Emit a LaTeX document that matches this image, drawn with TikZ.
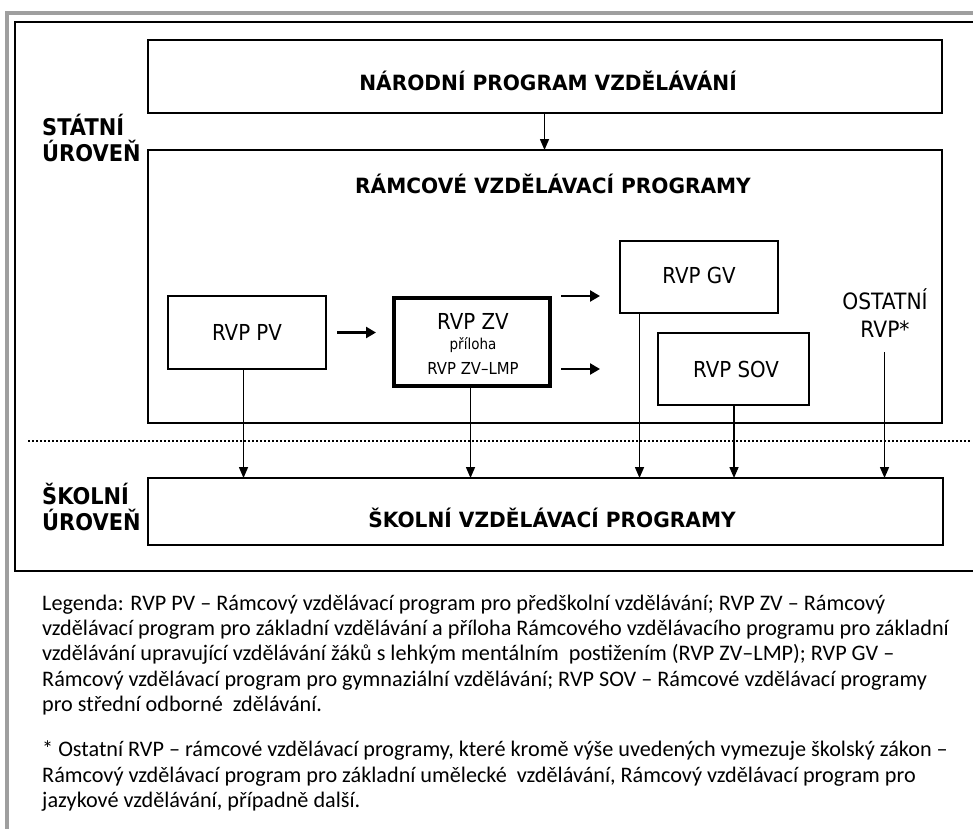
\documentclass[tikz,border=0pt]{standalone}
\usepackage{fontspec}
\setmainfont{DejaVu Sans}
\newfontfamily\legendfont{Carlito}
\newfontfamily\headfont[FakeStretch=0.96]{DejaVu Sans}
\newfontfamily\sidefont[FakeStretch=0.91]{DejaVu Sans}
\newfontfamily\boxfont[FakeStretch=0.9]{DejaVu Sans}
\usetikzlibrary{arrows.meta,calc}

\begin{document}
\begin{tikzpicture}[x=1pt,y=-1pt,
  box/.style={draw=black, line width=1.6pt, inner sep=0pt, outer sep=0pt},
  varr/.style={line width=1.5pt, -{Triangle[length=11pt,width=9pt]}},
  harr/.style={line width=2.4pt, -{Triangle[length=10pt,width=11pt]}},
  head/.style={inner sep=0pt, font=\headfont\bfseries\fontsize{21}{24}\selectfont},
  side/.style={inner sep=0pt, align=left, font=\sidefont\bfseries\fontsize{23}{26}\selectfont},
  lbl/.style={inner sep=0pt, font=\boxfont\fontsize{22}{26}\selectfont},
  leg/.style={anchor=base west, inner sep=0pt, font=\legendfont\fontsize{22.2}{25}\selectfont}
]
\useasboundingbox (0,0) rectangle (973,828);
\fill[white] (0,0) rectangle (973,828);

% outer grey frame and inner black frame
\draw[gray!75, line width=4pt] (6.5,13) rectangle (990,850);
\draw[black, line width=1.8pt] (15,22) rectangle (990,571);

% state level
\node[box, minimum width=794, minimum height=73] (npv) at (545,76.5) {};
\node[head] (npvt) at (548,81) {NÁRODNÍ PROGRAM VZDĚLÁVÁNÍ};
\node[side, anchor=west] (statni) at (42,138) {STÁTNÍ\\ÚROVEŇ};

\node[box, minimum width=794, minimum height=273] (rvp) at (545,286.5) {};
\node[head] (rvpt) at (553,184) {RÁMCOVÉ VZDĚLÁVACÍ PROGRAMY};

\node[box, minimum width=158, minimum height=73] (pv) at (247,332.5) {};
\node[lbl] (pvt) at (247,332) {RVP PV};

\node[box, line width=4pt, minimum width=156, minimum height=88] (zv) at (472,342) {};
\node[lbl] (zvt1) at (473,321) {RVP ZV};
\node[inner sep=0pt, font=\boxfont\fontsize{15}{18}\selectfont] (zvt2) at (473,345) {příloha};
\node[inner sep=0pt, font=\boxfont\fontsize{16.5}{19}\selectfont] (zvt3) at (473,368) {RVP ZV–LMP};

\node[box, minimum width=158, minimum height=72] (gv) at (699,277) {};
\node[lbl] (gvt) at (699,275) {RVP GV};

\node[box, minimum width=151, minimum height=72] (sov) at (733.5,369) {};
\node[lbl] (sovt) at (736,369) {RVP SOV};

\node[inner sep=0pt, align=center, font=\boxfont\fontsize{22.5}{28}\selectfont] (ost) at (885,313) {OSTATNÍ\\RVP*};
\coordinate (ostbot) at (884.5,352);

% boundary between the levels
\coordinate (dl) at (28,441);
\coordinate (dr) at (970,441);
\draw[line width=1.8pt, dash pattern=on 1.8pt off 2.2pt] (dl) -- (dr);

% school level
\node[box, minimum width=795, minimum height=67] (svp) at (545.5,511.5) {};
\node[head] (svpt) at (552,518) {ŠKOLNÍ VZDĚLÁVACÍ PROGRAMY};
\node[side, anchor=west] (skolni) at (42,507) {ŠKOLNÍ\\ÚROVEŇ};

% connectors
\draw[varr] ([xshift=-0.5]npv.south) -- ([xshift=-0.5]rvp.north);
\draw[harr] ([xshift=11]pv.east) -- ([xshift=-18]zv.west |- pv.east);
\draw[harr] ([shift={(11,-46)}]zv.east) -- ([shift={(-20,19)}]gv.west);
\draw[harr] ([shift={(11,27)}]zv.east) -- ([shift={(-58,0)}]sov.west);
\draw[varr] ([xshift=-3.5]pv.south) -- ([xshift=-3.5]pv.south |- svp.north);
\draw[varr] ([xshift=-1.5]zv.south) -- ([xshift=-1.5]zv.south |- svp.north);
\draw[varr] ([xshift=-59.5]gv.south) -- ([xshift=-59.5]gv.south |- svp.north);
\draw[varr] ([xshift=0.5]sov.south) -- ([xshift=0.5]sov.south |- svp.north);
\draw[varr] (ostbot) -- (ostbot |- svp.north);

% legend
\node[leg] (l1) at (42,610) {Legenda: RVP PV – Rámcový vzdělávací program pro předškolní vzdělávání; RVP ZV – Rámcový};
\node[leg] (l2) at (42,635) {vzdělávací program pro základní vzdělávání a příloha Rámcového vzdělávacího programu pro základní};
\node[leg] (l3) at (42,660) {vzdělávání upravující vzdělávání žáků s lehkým mentálním\ \ postižením (RVP ZV–LMP); RVP GV –};
\node[leg] (l4) at (42,686) {Rámcový vzdělávací program pro gymnaziální vzdělávání; RVP SOV – Rámcové vzdělávací programy};
\node[leg] (l5) at (42,711) {pro střední odborné\ \ zdělávání.};
\node[leg] (l6) at (42,756) {* Ostatní RVP – rámcové vzdělávací programy, které kromě výše uvedených vymezuje školský zákon –};
\node[leg] (l7) at (42,782) {Rámcový vzdělávací program pro základní umělecké\ \ vzdělávání, Rámcový vzdělávací program pro};
\node[leg] (l8) at (42,807) {jazykové vzdělávání, případně další.};
\end{tikzpicture}
\end{document}
